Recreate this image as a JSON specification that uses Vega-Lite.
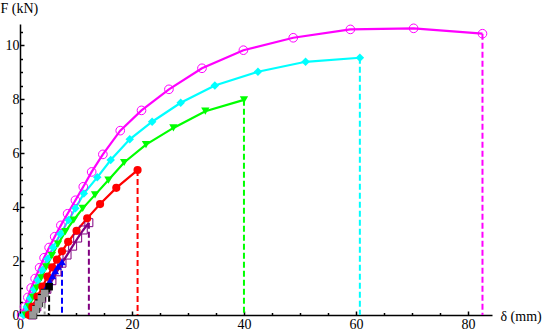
{
  "$schema": "https://vega.github.io/schema/vega-lite/v6.json",
  "width": 472,
  "height": 291,
  "autosize": {"type": "none"},
  "padding": {"left": 20, "top": 24, "right": 53, "bottom": 21},
  "background": "white",
  "config": {"view": {"stroke": null}, "font": "Times New Roman"},
  "datasets": {
    "pts": [
      {"s": "A", "d": 0.3, "f": 0.0}, {"s": "A", "d": 0.8, "f": 0.3}, {"s": "A", "d": 1.4, "f": 0.65}, {"s": "A", "d": 2.0, "f": 1.0},
      {"s": "A", "d": 2.7, "f": 1.35}, {"s": "A", "d": 3.5, "f": 1.75}, {"s": "A", "d": 4.3, "f": 2.12}, {"s": "A", "d": 5.2, "f": 2.5},
      {"s": "A", "d": 6.2, "f": 2.9}, {"s": "A", "d": 7.3, "f": 3.32}, {"s": "A", "d": 8.5, "f": 3.75}, {"s": "A", "d": 9.9, "f": 4.25},
      {"s": "A", "d": 11.3, "f": 4.75}, {"s": "A", "d": 12.8, "f": 5.3}, {"s": "A", "d": 14.8, "f": 5.95}, {"s": "A", "d": 17.9, "f": 6.83},
      {"s": "A", "d": 21.7, "f": 7.58}, {"s": "A", "d": 26.6, "f": 8.36}, {"s": "A", "d": 32.5, "f": 9.14}, {"s": "A", "d": 39.9, "f": 9.81},
      {"s": "A", "d": 48.8, "f": 10.27}, {"s": "A", "d": 59.0, "f": 10.58}, {"s": "A", "d": 70.3, "f": 10.62}, {"s": "A", "d": 82.6, "f": 10.42},

      {"s": "B", "d": 0.6, "f": 0.0}, {"s": "B", "d": 1.2, "f": 0.3}, {"s": "B", "d": 1.8, "f": 0.62}, {"s": "B", "d": 2.5, "f": 0.95},
      {"s": "B", "d": 3.2, "f": 1.3}, {"s": "B", "d": 4.0, "f": 1.67}, {"s": "B", "d": 4.9, "f": 2.07}, {"s": "B", "d": 5.9, "f": 2.5},
      {"s": "B", "d": 7.2, "f": 3.0}, {"s": "B", "d": 8.7, "f": 3.52}, {"s": "B", "d": 9.9, "f": 3.95}, {"s": "B", "d": 11.4, "f": 4.5},
      {"s": "B", "d": 13.8, "f": 5.1}, {"s": "B", "d": 16.2, "f": 5.74}, {"s": "B", "d": 19.6, "f": 6.51}, {"s": "B", "d": 23.6, "f": 7.16},
      {"s": "B", "d": 28.7, "f": 7.86}, {"s": "B", "d": 34.8, "f": 8.5}, {"s": "B", "d": 42.5, "f": 9.01}, {"s": "B", "d": 51.0, "f": 9.38},
      {"s": "B", "d": 60.7, "f": 9.53},

      {"s": "C", "d": 1.0, "f": 0.0}, {"s": "C", "d": 1.6, "f": 0.3}, {"s": "C", "d": 2.3, "f": 0.65}, {"s": "C", "d": 3.0, "f": 1.0},
      {"s": "C", "d": 3.8, "f": 1.38}, {"s": "C", "d": 4.7, "f": 1.78}, {"s": "C", "d": 5.7, "f": 2.2}, {"s": "C", "d": 6.8, "f": 2.63},
      {"s": "C", "d": 8.1, "f": 3.09}, {"s": "C", "d": 9.6, "f": 3.52}, {"s": "C", "d": 11.2, "f": 3.95}, {"s": "C", "d": 13.4, "f": 4.45},
      {"s": "C", "d": 15.8, "f": 5.0}, {"s": "C", "d": 18.6, "f": 5.65}, {"s": "C", "d": 22.5, "f": 6.31}, {"s": "C", "d": 27.4, "f": 6.93},
      {"s": "C", "d": 33.1, "f": 7.55}, {"s": "C", "d": 40.0, "f": 7.97},

      {"s": "D", "d": 1.6, "f": 0.0}, {"s": "D", "d": 2.2, "f": 0.3}, {"s": "D", "d": 3.1, "f": 0.68}, {"s": "D", "d": 4.0, "f": 1.05},
      {"s": "D", "d": 4.9, "f": 1.42}, {"s": "D", "d": 5.75, "f": 1.77}, {"s": "D", "d": 6.6, "f": 2.05}, {"s": "D", "d": 7.5, "f": 2.36},
      {"s": "D", "d": 8.6, "f": 2.71}, {"s": "D", "d": 10.1, "f": 3.12}, {"s": "D", "d": 12.0, "f": 3.58}, {"s": "D", "d": 14.3, "f": 4.11},
      {"s": "D", "d": 17.2, "f": 4.71}, {"s": "D", "d": 21.0, "f": 5.37},

      {"s": "E", "d": 2.2, "f": 0.0}, {"s": "E", "d": 3.0, "f": 0.3}, {"s": "E", "d": 3.9, "f": 0.62}, {"s": "E", "d": 4.8, "f": 0.95},
      {"s": "E", "d": 5.7, "f": 1.27}, {"s": "E", "d": 6.6, "f": 1.6}, {"s": "E", "d": 7.5, "f": 1.92}, {"s": "E", "d": 8.4, "f": 2.22},
      {"s": "E", "d": 9.4, "f": 2.55}, {"s": "E", "d": 10.3, "f": 2.85}, {"s": "E", "d": 11.3, "f": 3.15}, {"s": "E", "d": 12.3, "f": 3.42},

      {"s": "F", "d": 2.3, "f": 0.0}, {"s": "F", "d": 2.8, "f": 0.2}, {"s": "F", "d": 3.3, "f": 0.42}, {"s": "F", "d": 3.8, "f": 0.63},
      {"s": "F", "d": 4.3, "f": 0.85}, {"s": "F", "d": 4.8, "f": 1.05}, {"s": "F", "d": 5.3, "f": 1.25}, {"s": "F", "d": 5.8, "f": 1.45},
      {"s": "F", "d": 6.3, "f": 1.63}, {"s": "F", "d": 6.8, "f": 1.8}, {"s": "F", "d": 7.5, "f": 1.97},

      {"s": "G", "d": 2.4, "f": 0.0}, {"s": "G", "d": 2.9, "f": 0.22}, {"s": "G", "d": 3.4, "f": 0.44}, {"s": "G", "d": 3.9, "f": 0.64},
      {"s": "G", "d": 4.4, "f": 0.83}, {"s": "G", "d": 5.2, "f": 1.05},

      {"s": "H", "d": 2.3, "f": 0.0}, {"s": "H", "d": 2.8, "f": 0.2}, {"s": "H", "d": 3.3, "f": 0.4}, {"s": "H", "d": 3.8, "f": 0.6},
      {"s": "H", "d": 4.4, "f": 0.8}
    ],
    "ends": [
      {"s": "A", "d": 82.6, "f": 10.42}, {"s": "B", "d": 60.7, "f": 9.53}, {"s": "C", "d": 40.0, "f": 7.97},
      {"s": "D", "d": 21.0, "f": 5.37}, {"s": "E", "d": 12.3, "f": 3.42}, {"s": "F", "d": 7.5, "f": 1.97},
      {"s": "G", "d": 5.2, "f": 1.05}, {"s": "H", "d": 4.4, "f": 0.8}
    ]
  },
  "encoding": {
    "x": {
      "field": "d", "type": "quantitative",
      "scale": {"domain": [0, 84.3], "nice": false, "zero": false},
      "axis": {
        "values": [0, 5, 10, 15, 20, 25, 30, 35, 40, 45, 50, 55, 60, 65, 70, 75, 80],
        "labelExpr": "datum.value % 20 === 0 ? format(datum.value, 'd') : ''",
        "tickSize": {"condition": {"test": "datum.value % 20 === 0", "value": -4}, "value": -2.5},
        "tickWidth": 1.5, "tickColor": "black",
        "domainColor": "black", "domainWidth": 1.5,
        "grid": false,
        "labelFont": "Times New Roman", "labelFontSize": 14, "labelColor": "black",
        "labelFlush": false, "labelOverlap": false, "labelPadding": 6,
        "title": "δ (mm)", "titleFont": "Times New Roman", "titleFontSize": 14, "titleFontWeight": "normal",
        "titleColor": "black", "titleX": 480, "titleY": 1, "titleAlign": "left", "titleBaseline": "middle"
      }
    },
    "y": {
      "field": "f", "type": "quantitative",
      "scale": {"domain": [0, 10.78], "nice": false, "zero": false},
      "axis": {
        "values": [0, 0.5, 1, 1.5, 2, 2.5, 3, 3.5, 4, 4.5, 5, 5.5, 6, 6.5, 7, 7.5, 8, 8.5, 9, 9.5, 10, 10.5],
        "labelExpr": "datum.value % 2 === 0 ? format(datum.value, 'd') : ''",
        "tickSize": {"condition": {"test": "datum.value % 2 === 0", "value": -4}, "value": -2.5},
        "tickWidth": 1.5, "tickColor": "black",
        "domainColor": "black", "domainWidth": 1.5,
        "grid": false,
        "labelFont": "Times New Roman", "labelFontSize": 14, "labelColor": "black",
        "labelFlush": false, "labelOverlap": false, "labelPadding": 5,
        "title": "F (kN)", "titleFont": "Times New Roman", "titleFontSize": 14, "titleFontWeight": "normal",
        "titleColor": "black", "titleAngle": 0, "titleX": -20, "titleY": -16, "titleAlign": "left", "titleBaseline": "middle"
      }
    },
    "color": {
      "field": "s", "type": "nominal", "legend": null,
      "scale": {"domain": ["A", "B", "C", "D", "E", "F", "G", "H"],
                "range": ["#ff00ff", "#00ffff", "#00ff00", "#ff0000", "#800080", "#0000ff", "#000000", "#999999"]}
    }
  },
  "layer": [
    {
      "data": {"name": "ends"},
      "mark": {"type": "rule", "strokeDash": [6, 3], "strokeWidth": 2},
      "encoding": {"y2": {"datum": 0}}
    },
    {
      "data": {"name": "pts"},
      "mark": {"type": "line", "strokeWidth": 2.2},
      "encoding": {"detail": {"field": "s"}}
    },
    {
      "data": {"name": "pts"},
      "transform": [{"filter": "datum.s == 'A' || datum.s == 'E'"}],
      "mark": {"type": "point", "filled": false, "strokeWidth": 1, "opacity": 1},
      "encoding": {
        "shape": {"field": "s", "type": "nominal", "legend": null,
                  "scale": {"domain": ["A", "B", "C", "D", "E", "F", "G", "H"],
                            "range": ["circle", "diamond", "triangle-down", "circle", "square", "triangle-up", "square", "square"]}},
        "size": {"field": "s", "type": "nominal", "legend": null,
                 "scale": {"domain": ["A", "B", "C", "D", "E", "F", "G", "H"],
                           "range": [75, 55, 45, 70, 28, 35, 14, 14]}}
      }
    },
    {
      "data": {"name": "pts"},
      "transform": [{"filter": "datum.s != 'A' && datum.s != 'E'"}],
      "mark": {"type": "point", "filled": true, "opacity": 1},
      "encoding": {
        "shape": {"field": "s", "type": "nominal", "legend": null,
                  "scale": {"domain": ["A", "B", "C", "D", "E", "F", "G", "H"],
                            "range": ["circle", "diamond", "triangle-down", "circle", "square", "triangle-up", "square", "square"]}},
        "size": {"field": "s", "type": "nominal", "legend": null,
                 "scale": {"domain": ["A", "B", "C", "D", "E", "F", "G", "H"],
                           "range": [75, 55, 45, 70, 28, 35, 14, 14]}}
      }
    }
  ]
}
